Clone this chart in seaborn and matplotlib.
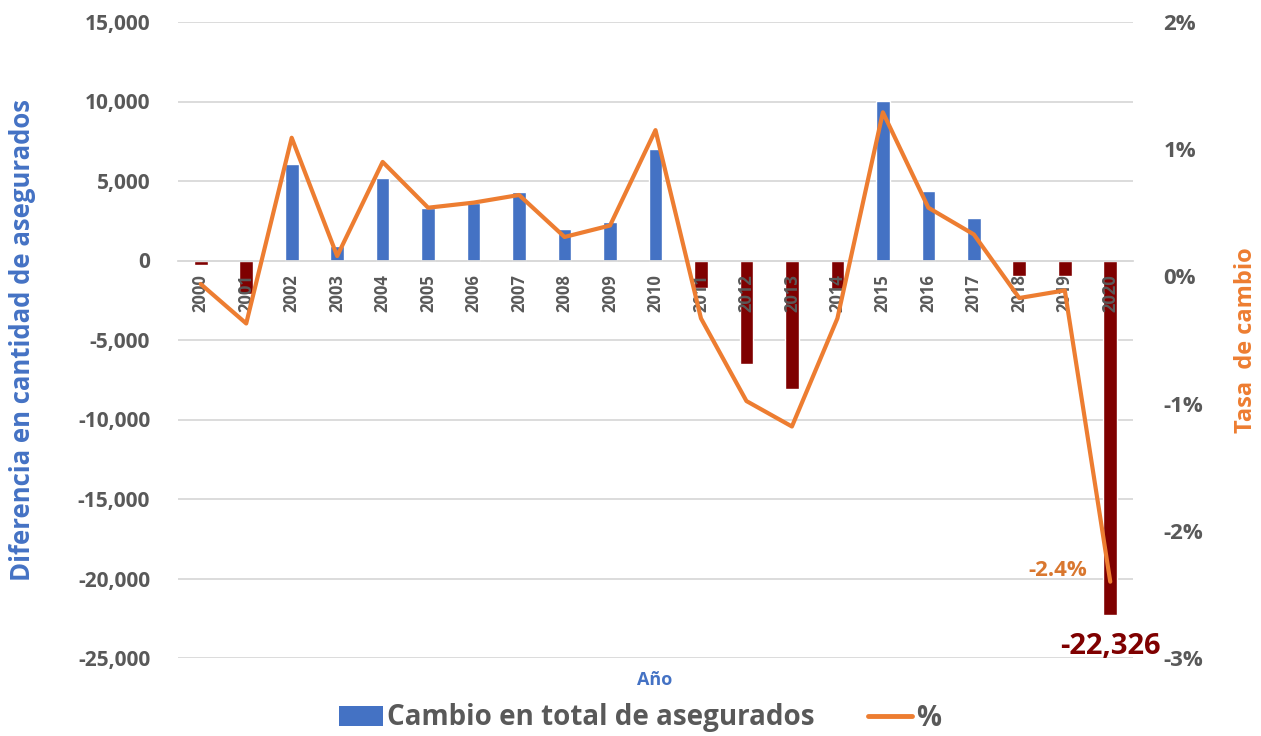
import numpy as np
import pandas as pd
import matplotlib
matplotlib.use("Agg")
import matplotlib.pyplot as plt
import seaborn as sns
from matplotlib.ticker import FuncFormatter, MultipleLocator, FixedLocator, FixedFormatter
from matplotlib.patches import Patch
from matplotlib.lines import Line2D

years = [str(y) for y in range(2000, 2021)]
cambio = [-300, -2100, 6100, 900, 5200, 3300, 3600, 4300, 2000, 2450, 7000,
          -1700, -6500, -8100, -1800, 10050, 4400, 2700, -1000, -1000, -22326]
pct = [-0.06, -0.37, 1.09, 0.16, 0.90, 0.54, 0.58, 0.64, 0.31, 0.40, 1.15,
       -0.33, -0.98, -1.18, -0.33, 1.29, 0.54, 0.33, -0.17, -0.11, -2.4]

BLUE = "#4472C4"
RED = "#7F0000"
ORANGE = "#ED7D31"
GREY = "#595959"

sns.set_theme(style="white")
plt.rcParams['font.family'] = ['Open Sans', 'DejaVu Sans']

df = pd.DataFrame({"year": years, "cambio": cambio, "pct": pct})
df["signo"] = np.where(df["cambio"] >= 0, "pos", "neg")
df["idx"] = np.arange(len(df))

YMIN, YMAX = -25000, 15000

fig = plt.figure(figsize=(12.61, 7.36), dpi=100)
ax = fig.add_axes([178/1261, 78/736, 955/1261, 636/736])

sns.barplot(data=df, x="year", y="cambio", hue="signo", dodge=False,
            palette={"pos": BLUE, "neg": RED}, width=0.3, ax=ax,
            legend=False, saturation=1)

ax.set_ylim(YMIN, YMAX)
ax.set_xlim(-0.5, len(years) - 0.5)
ax.yaxis.set_major_locator(MultipleLocator(5000))
ax.yaxis.set_major_formatter(FuncFormatter(lambda v, p: f"{int(v):,}"))
ax.grid(axis="y", color="#D9D9D9", linewidth=1.3)
ax.set_axisbelow(True)
for s in ["top", "right", "left"]:
    ax.spines[s].set_visible(False)
ax.spines["bottom"].set_position(("data", 0))
ax.spines["bottom"].set_color("#D9D9D9")
ax.spines["bottom"].set_linewidth(1.3)
ax.tick_params(axis="y", length=0, pad=20, labelsize=15, labelcolor=GREY)
ax.tick_params(axis="x", length=0, labelbottom=False)
for t in ax.get_yticklabels():
    t.set_fontweight("bold")
ax.set_xlabel("")
ax.set_ylabel("Diferencia en cantidad de asegurados", color=BLUE, fontsize=18.5,
              fontweight="bold", labelpad=30)

ax2 = ax.twinx()
sns.lineplot(data=df, x="idx", y="pct", color=ORANGE, linewidth=3, ax=ax2)
ax2.set_ylim(-3, 2)
ax2.yaxis.set_major_locator(MultipleLocator(1))
ax2.yaxis.set_major_formatter(FuncFormatter(lambda v, p: f"{v:.0f}%"))
for s in ["top", "right", "left", "bottom"]:
    ax2.spines[s].set_visible(False)
ax2.set_axisbelow(True)
# year labels on the twin axis so they sit above the bars (at the bar axis' zero)
ax2.spines["bottom"].set_position(("axes", (0 - YMIN) / (YMAX - YMIN)))
ax2.xaxis.set_visible(True)
ax2.xaxis.set_major_locator(FixedLocator(list(range(len(years)))))
ax2.xaxis.set_major_formatter(FixedFormatter(years))
ax2.tick_params(axis="x", bottom=True, labelbottom=True, length=0, pad=10,
                labelsize=12, labelcolor=GREY, rotation=90)
for t in ax2.get_xticklabels():
    t.set_fontweight("bold")
ax2.tick_params(axis="y", length=0, pad=22, labelsize=16, labelcolor=GREY)
for t in ax2.get_yticklabels():
    t.set_fontweight("bold")
ax2.set_xlabel("")
ax2.set_ylabel("Tasa  de cambio", color=ORANGE, fontsize=17, fontweight="bold",
               labelpad=22)
ax2.set_xlim(-0.5, len(years) - 0.5)

last = len(years) - 1
ax2.annotate(f"{pct[-1]:.1f}%", xy=(last, pct[-1]), xytext=(-17, 8),
             textcoords="offset points", ha="right", va="center",
             color="#D9772F", fontsize=16, fontweight="bold")
ax.annotate(f"{cambio[-1]:,}", xy=(last, cambio[-1]), xytext=(0, -22),
            textcoords="offset points", ha="center", va="center",
            color=RED, fontsize=21, fontweight="bold")

fig.text(655/1261, 1 - 680/736, "Año", color=BLUE, fontsize=13,
         fontweight="bold", ha="center", va="center")

handles = [Patch(facecolor=BLUE, edgecolor="none"),
           Line2D([0], [0], color=ORANGE, linewidth=3.5)]
leg = fig.legend(handles, ["Cambio en total de asegurados", "%"],
                 loc="center", bbox_to_anchor=(640/1261, 1 - 718/736), ncol=2,
                 frameon=False, fontsize=20, handlelength=1.6, handletextpad=0.15,
                 columnspacing=1.9)
for t in leg.get_texts():
    t.set_color(GREY)
    t.set_fontweight("bold")

fig.savefig("out.png", dpi=100, facecolor="white")
